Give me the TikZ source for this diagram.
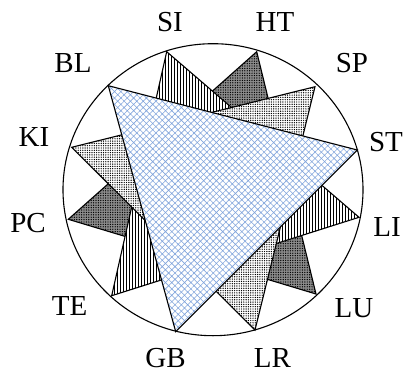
\documentclass[tikz,border=0pt]{standalone}
\usepackage{fontspec}
\setmainfont{Liberation Serif}
\usetikzlibrary{patterns.meta}

\begin{document}
\begin{tikzpicture}[x=1pt, y=-1pt]

\definecolor{hatchblue}{RGB}{130,165,220}
\tikzset{tri/.style = {draw, line width=1.1pt, line join=miter}}
\tikzset{darktri/.style = {tri, preaction={fill=gray!90}, pattern={Dots[distance=2.4pt, radius=0.7pt]}, pattern color=black}}
\tikzset{linetri/.style = {tri, fill=white, postaction={pattern={Lines[angle=90, distance=3pt, line width=0.9pt]}}}}
\tikzset{dottri/.style = {tri, preaction={fill=white}, pattern={Dots[distance=2.3pt, radius=0.7pt]}, pattern color=black}}
\tikzset{bluetri/.style = {tri, preaction={fill=white}, pattern={Hatch[angle=45, distance=4.5pt, line width=0.6pt]}, pattern color=hatchblue}}
\tikzset{meridian/.style = {inner sep=0pt, font=\fontsize{29}{30}\selectfont}}

\useasboundingbox (0,0) rectangle (407,378);
%circle
\draw[line width=1.1pt] (213,189.7) ellipse [x radius=150, y radius=146];
%verticies
\coordinate (SI) at (166.7,51.7);
\coordinate (HT) at (256.7,51.7);
\coordinate (SP) at (315,86.7);
\coordinate (ST) at (357.3,150);
\coordinate (LI) at (359,217.3);
\coordinate (LU) at (316,294);
\coordinate (LR) at (255,330);
\coordinate (GB) at (175.7,331.7);
\coordinate (TE) at (111.7,295.7);
\coordinate (PC) at (68.3,219.3);
\coordinate (KI) at (71.7,147.3);
\coordinate (BL) at (108.3,85.7);
%triangles
\draw[darktri] (HT) -- (LU) -- (PC) -- cycle;
\draw[linetri] (SI) -- (LI) -- (TE) -- cycle;
\draw[dottri] (SP) -- (LR) -- (KI) -- cycle;
\draw[bluetri] (BL) -- (ST) -- (GB) -- cycle;
%labels
\node[meridian] (SIlabel) at (170,22) {SI};
\node[meridian] (HTlabel) at (275,22) {HT};
\node[meridian] (SPlabel) at (352,63) {SP};
\node[meridian] (STlabel) at (386,142) {ST};
\node[meridian] (LIlabel) at (387,227.5) {LI};
\node[meridian] (LUlabel) at (354,308) {LU};
\node[meridian] (LRlabel) at (272.5,358) {LR};
\node[meridian] (GBlabel) at (165.5,358) {GB};
\node[meridian] (TElabel) at (69.5,305.5) {TE};
\node[meridian] (PClabel) at (28,223) {PC};
\node[meridian] (KIlabel) at (34,137) {KI};
\node[meridian] (BLlabel) at (73,63) {BL};

\end{tikzpicture}
\end{document}
